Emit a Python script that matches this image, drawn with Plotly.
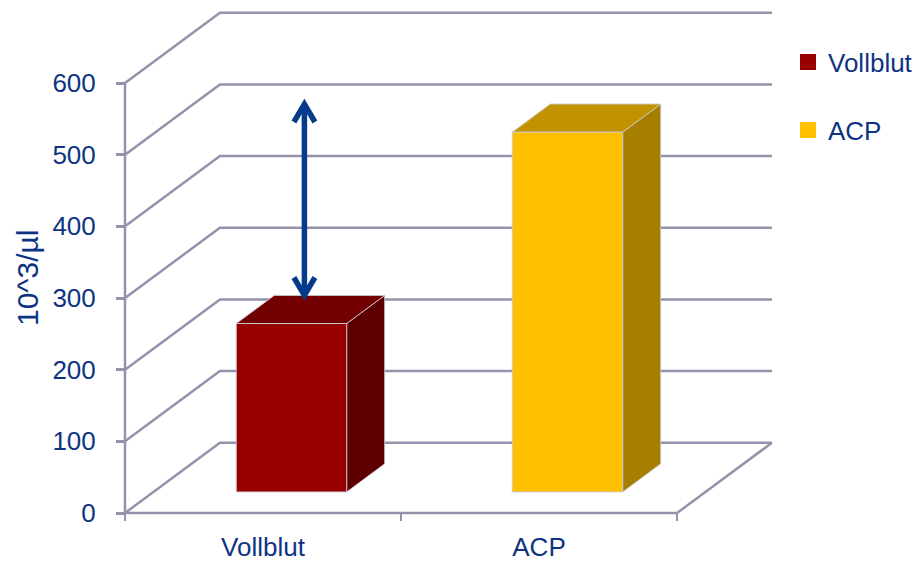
import plotly.graph_objects as go

# ---------------- data ----------------
categories = ["Vollblut", "ACP"]
values = [235, 502]
y_ticks = [0, 100, 200, 300, 400, 500, 600]
y_title = "10^3/µl"

# ---------------- style ----------------
front_colors = ["#990000", "#FFC000"]
top_colors = ["#720000", "#C39200"]
side_colors = ["#5E0000", "#A67E00"]
grid_color = "#9194AA"
text_color = "#0E3383"
arrow_color = "#053B8B"
edge_color = "rgba(200,200,206,0.9)"
FONT = "Arial, Liberation Sans, sans-serif"
FS = 26

# pseudo-3D projection (depth offsets expressed in axis units)
KX = 0.344   # depth shift along category axis
KY = 98      # depth shift along value axis
BAR_W = 0.4
D0, D1 = 0.3, 0.7
ARROW_U = 0.65

W, H = 920, 563
ML, MR, MT, MB = 100, 130, 6, 43
PX_PER_CAT = 276.0
PX_PER_VAL = 430.0 / 600.0
plot_w = W - ML - MR
plot_h = H - MT - MB
x0 = -25.0 / PX_PER_CAT
x_range = [x0, x0 + plot_w / PX_PER_CAT]
yb = -7.0 / PX_PER_VAL
y_range = [yb, yb + plot_h / PX_PER_VAL]
ncat = len(categories)
ymax = max(y_ticks)


def P(u, v, d):
    return u + d * KX, v + d * KY


def poly(pts):
    xs = [p[0] for p in pts] + [pts[0][0]]
    ys = [p[1] for p in pts] + [pts[0][1]]
    return xs, ys


fig = go.Figure()

# gridlines: front-left diagonal + back wall horizontal
gx, gy = [], []
for t in y_ticks:
    for (u, v, d) in [(0, t, 0), (0, t, 1), (ncat, t, 1)]:
        x, y = P(u, v, d)
        gx.append(x); gy.append(y)
    gx.append(None); gy.append(None)
# floor front edge + right edge
for (u, v, d) in [(0, 0, 0), (ncat, 0, 0), (ncat, 0, 1)]:
    x, y = P(u, v, d)
    gx.append(x); gy.append(y)
gx.append(None); gy.append(None)
# front vertical axis line
for (u, v, d) in [(0, 0, 0), (0, ymax, 0)]:
    x, y = P(u, v, d)
    gx.append(x); gy.append(y)
fig.add_trace(go.Scatter(x=gx, y=gy, mode="lines",
                         line=dict(color=grid_color, width=2.5),
                         showlegend=False, hoverinfo="skip"))

# bars
for i, (cat, val) in enumerate(zip(categories, values)):
    u0 = i + 0.5 - BAR_W / 2
    u1 = i + 0.5 + BAR_W / 2
    front = [P(u0, 0, D0), P(u1, 0, D0), P(u1, val, D0), P(u0, val, D0)]
    top = [P(u0, val, D0), P(u1, val, D0), P(u1, val, D1), P(u0, val, D1)]
    side = [P(u1, 0, D0), P(u1, 0, D1), P(u1, val, D1), P(u1, val, D0)]
    for pts, col in [(side, side_colors[i]), (top, top_colors[i]), (front, front_colors[i])]:
        xs, ys = poly(pts)
        fig.add_trace(go.Scatter(x=xs, y=ys, mode="lines", fill="toself",
                                 fillcolor=col, line=dict(color=edge_color, width=1),
                                 showlegend=False, hoverinfo="skip", name=cat))

# double-headed arrow showing the difference
lo = P(ARROW_U - D1 * KX, values[0], D1)
hi = P(ARROW_U - D1 * KX, values[1], D1)
ax_ = lo[0]
ah_dx, ah_dy = 0.038, 25
ax_l = [ax_, ax_, None,
        ax_ - ah_dx, ax_, ax_ + ah_dx, None,
        ax_ - ah_dx, ax_, ax_ + ah_dx]
ay_l = [lo[1], hi[1], None,
        hi[1] - ah_dy, hi[1], hi[1] - ah_dy, None,
        lo[1] + ah_dy, lo[1], lo[1] + ah_dy]
fig.add_trace(go.Scatter(x=ax_l, y=ay_l, mode="lines",
                         line=dict(color=arrow_color, width=5.5),
                         showlegend=False, hoverinfo="skip"))

# legend entries
for i, cat in enumerate(categories):
    fig.add_trace(go.Scatter(x=[None], y=[None], mode="markers", name=cat,
                             marker=dict(symbol="square", size=17, color=front_colors[i],
                                         line=dict(width=0)),
                             legend="legend" if i == 0 else "legend2"))

ypos_x = (0 - x_range[0]) / (x_range[1] - x_range[0])
xpos_y = (0 - y_range[0]) / (y_range[1] - y_range[0])

legend_common = dict(xref="container", yref="container", xanchor="left", yanchor="middle",
                     font=dict(family=FONT, size=FS, color=text_color),
                     bgcolor="rgba(0,0,0,0)", borderwidth=0)

fig.update_layout(
    width=W, height=H,
    margin=dict(l=ML, r=MR, t=MT, b=MB, autoexpand=False),
    paper_bgcolor="white", plot_bgcolor="white",
    font=dict(family=FONT, size=FS, color=text_color),
    xaxis=dict(range=x_range, showgrid=False, zeroline=False, showline=False,
               tickvals=[i + 0.5 for i in range(ncat)], ticktext=categories,
               ticks="", anchor="free", position=xpos_y, ticklabelstandoff=16,
               automargin=False,
               tickfont=dict(family=FONT, size=FS, color=text_color),
               minor=dict(tickvals=list(range(ncat + 1)), ticks="outside", ticklen=7,
                          tickwidth=2, tickcolor=grid_color, showgrid=False),
               fixedrange=True),
    yaxis=dict(range=y_range, showgrid=False, zeroline=False, showline=False,
               tickvals=y_ticks, ticks="outside", ticklen=9, tickwidth=2.5,
               tickcolor=grid_color, anchor="free", position=ypos_x,
               ticklabelstandoff=15, automargin=False,
               tickfont=dict(family=FONT, size=FS, color=text_color),
               fixedrange=True),
    legend=dict(x=788 / W, y=1 - 62 / H, **legend_common),
    legend2=dict(x=788 / W, y=1 - 130 / H, **legend_common),
    annotations=[dict(text=y_title, textangle=-90, xref="paper", yref="paper",
                      x=(27 - ML) / plot_w, y=(H - MB - 278) / plot_h,
                      xanchor="center", yanchor="middle", showarrow=False,
                      font=dict(family=FONT, size=30, color=text_color))],
)

fig.write_html("out.html")
